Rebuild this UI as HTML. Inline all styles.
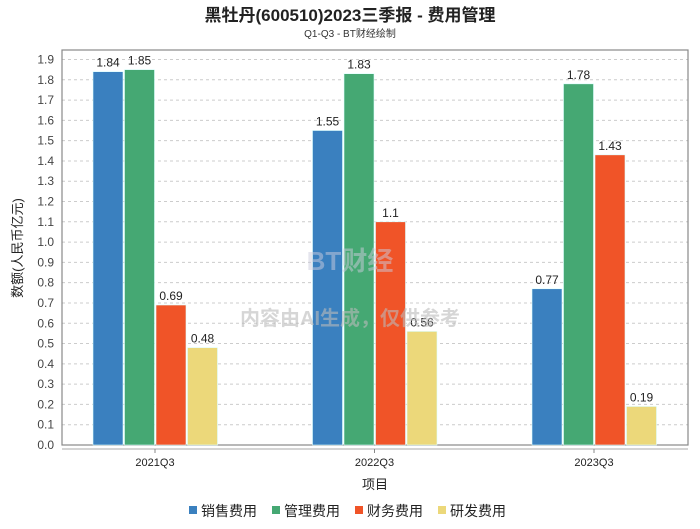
<!DOCTYPE html>
<html><head><meta charset="utf-8"><style>
body{margin:0;background:#fff;width:700px;height:524px;overflow:hidden;font-family:"Liberation Sans","Noto Sans CJK SC",sans-serif}
</style></head><body>
<svg width="700" height="524" xmlns="http://www.w3.org/2000/svg">
<text x="350" y="21" text-anchor="middle" font-size="17" font-weight="bold" fill="#222">黑牡丹(600510)2023三季报 - 费用管理</text>
<text x="350" y="37" text-anchor="middle" font-size="10" fill="#333">Q1-Q3 - BT财经绘制</text>
<g id="grid"></g>
<rect x="62" y="50" width="626" height="395" fill="none" stroke="#888" stroke-width="1.2"/>
<line x1="62" y1="449" x2="688" y2="449" stroke="#aaa"/>
<g id="bars"></g>
<text x="350" y="270" text-anchor="middle" font-size="26" font-weight="bold" fill="#ccd" opacity="0.5">BT财经</text>
<text x="350" y="325" text-anchor="middle" font-size="20" font-weight="bold" fill="#bbb" opacity="0.6">内容由AI生成，仅供参考</text>
<text x="22" y="248" text-anchor="middle" font-size="13" fill="#222" transform="rotate(-90 22 248)">数额(人民币亿元)</text>
<text x="375" y="489" text-anchor="middle" font-size="13" fill="#222">项目</text>
<g id="legend"></g>
</svg>
<script>
const categories=["2021Q3","2022Q3","2023Q3"];
const seriesNames=["销售费用","管理费用","财务费用","研发费用"];
const sales=[1.84,1.55,0.77];
const admin=[1.85,1.83,1.78];
const finance=[0.69,1.1,1.43];
const rnd=[0.48,0.56,0.19];
const yTicks=[0,0.1,0.2,0.3,0.4,0.5,0.6,0.7,0.8,0.9,1.0,1.1,1.2,1.3,1.4,1.5,1.6,1.7,1.8,1.9];
const colors=["#3a80bf","#45a873","#f05428","#ecd87a"];
const NS="http://www.w3.org/2000/svg";
const y=v=>445-v*202.9;
const xc=i=>155+i*219.5;
function mk(t,a,p){const e=document.createElementNS(NS,t);for(const k in a)e.setAttribute(k,a[k]);p.appendChild(e);return e;}
const grid=document.getElementById('grid');
yTicks.forEach(v=>{
 if(v>0){const l=mk('line',{x1:62,x2:688,y1:y(v),y2:y(v),stroke:'#ccc','stroke-dasharray':'3,3'},grid);
 
 }
 const t=mk('text',{x:54,y:y(v)+4,'text-anchor':'end','font-size':12,fill:'#444'},grid);
 t.textContent=v.toFixed(1);
 
 
});
const bars=document.getElementById('bars');
const all=[sales,admin,finance,rnd];
categories.forEach((c,i)=>{
 all.forEach((s,j)=>{
  const x0=xc(i)-62+j*31.5;
  const r=mk('rect',{x:x0,y:y(s[i]),width:30,height:445-y(s[i]),fill:colors[j],stroke:'#dff',"stroke-width":0.6},bars);
  
  
  const t=mk('text',{x:x0+15,y:y(s[i])-5,'text-anchor':'middle','font-size':12,fill:'#222'},bars);
  t.textContent=String(s[i]);
  
  
 });
 mk('line',{x1:xc(i),x2:xc(i),y1:449,y2:453,stroke:'#888'},bars);
 const t=mk('text',{x:xc(i),y:466,'text-anchor':'middle','font-size':11,fill:'#222'},bars);
 t.textContent=c;
 
 
});
const lg=document.getElementById('legend');
seriesNames.forEach((n,j)=>{
 const x0=189+j*83;
 const g=mk('g',{},lg);
 
 
 mk('rect',{x:x0,y:506,width:8,height:8,fill:colors[j]},g);
 const t=mk('text',{x:x0+12,y:516,'font-size':14,fill:'#222'},g);
 t.textContent=n;
});
</script>
</body></html>
